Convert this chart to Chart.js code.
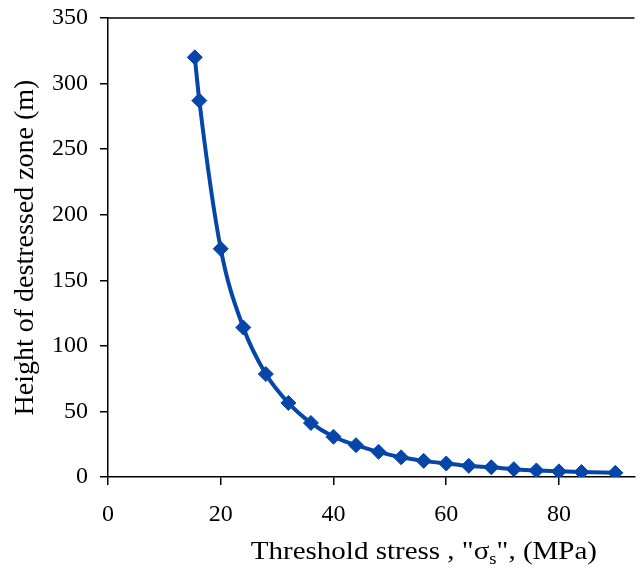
<!DOCTYPE html>
<html>
<head>
<meta charset="utf-8">
<script src="https://cdn.jsdelivr.net/npm/chart.js@4"></script>
<style>
  html, body { margin: 0; padding: 0; background: #fff; }
  canvas { display: block; }
</style>
</head>
<body>
<canvas id="chart" width="643" height="574"></canvas>
<script>
// threshold stress (MPa) and height of destressed zone (m)
const stress = [15.4, 16.2, 20, 24, 28, 32, 36, 40, 44, 48, 52, 56, 60, 64, 68, 72, 76, 80, 84, 90];
const height = [320, 287, 174, 114, 78.5, 56.5, 41.2, 30.7, 24.3, 19.2, 15, 12.3, 10.3, 8.5, 7.4, 6, 5, 4.3, 3.8, 3.2];
const xTicks = [0, 20, 40, 60, 80];
const yTicks = [0, 50, 100, 150, 200, 250, 300, 350];

const serif = 'Liberation Serif';
const blue = '#0546A8';

// top border of the plot area, plus the x title with its subscript
const framePlugin = {
  id: 'frame',
  afterDraw(chart) {
    const ctx = chart.ctx;
    const area = chart.chartArea;
    ctx.save();
    ctx.strokeStyle = '#000';
    ctx.lineWidth = 1.5;
    ctx.beginPath();
    ctx.moveTo(area.left, area.top);
    ctx.lineTo(area.right, area.top);
    ctx.stroke();

    const parts = [
      { t: 'Threshold stress , "\u03C3', size: 25, dy: 0 },
      { t: 's', size: 16, dy: 5 },
      { t: '", (MPa)', size: 25, dy: 0 }
    ];
    const stretch = 1.16;
    let total = 0;
    parts.forEach((p) => {
      ctx.font = p.size + 'px "' + serif + '"';
      p.w = ctx.measureText(p.t).width;
      total += p.w;
    });
    const cx = area.left + (area.right - area.left) * 0.6;
    const base = chart.scales.x.bottom - 15;
    ctx.translate(cx - total * stretch / 2, base);
    ctx.scale(stretch, 1);
    let x = 0;
    ctx.fillStyle = '#000';
    ctx.textBaseline = 'alphabetic';
    ctx.textAlign = 'left';
    parts.forEach((p) => {
      ctx.font = p.size + 'px "' + serif + '"';
      ctx.fillText(p.t, x, p.dy);
      x += p.w;
    });
    ctx.restore();
  }
};

new Chart(document.getElementById('chart').getContext('2d'), {
  type: 'line',
  data: {
    datasets: [{
      data: stress.map((s, i) => ({ x: s, y: height[i] })),
      borderColor: blue,
      backgroundColor: blue,
      borderWidth: 4,
      cubicInterpolationMode: 'monotone',
      pointStyle: 'rectRot',
      pointRadius: 7.5,
      pointBorderWidth: 1,
      pointBackgroundColor: blue,
      pointBorderColor: blue,
      fill: false
    }]
  },
  plugins: [framePlugin],
  options: {
    responsive: false,
    animation: false,
    events: [],
    layout: { padding: { top: 18, right: 0, left: 0, bottom: 0 } },
    plugins: {
      legend: { display: false },
      tooltip: { enabled: false }
    },
    scales: {
      x: {
        type: 'linear',
        min: 0,
        max: 93.4,
        afterFit: (scale) => { scale.height = 97; },
        afterBuildTicks: (scale) => { scale.ticks = xTicks.map((v) => ({ value: v })); },
        ticks: {
          includeBounds: false,
          color: '#000',
          padding: 15,
          maxRotation: 0,
          font: { family: serif, size: 24 }
        },
        grid: {
          drawOnChartArea: false,
          drawTicks: true,
          tickLength: 8,
          color: '#000',
          lineWidth: 1.5
        },
        border: { display: true, color: '#000', width: 1.5 }
      },
      y: {
        min: 0,
        max: 350,
        afterFit: (scale) => {
          scale.width = 108;
          scale.paddingTop = 0;
          scale.paddingBottom = 0;
        },
        afterBuildTicks: (scale) => { scale.ticks = yTicks.map((v) => ({ value: v })); },
        ticks: {
          color: '#000',
          padding: 12,
          font: { family: serif, size: 24 }
        },
        grid: {
          drawOnChartArea: false,
          drawTicks: true,
          tickLength: 8,
          color: '#000',
          lineWidth: 1.5
        },
        border: { display: true, color: '#000', width: 1.5 },
        title: {
          display: true,
          text: 'Height of destressed zone (m)',
          color: '#000',
          padding: { top: 9, bottom: 0 },
          font: { family: serif, size: 28 }
        }
      }
    }
  }
});
</script>
</body>
</html>
